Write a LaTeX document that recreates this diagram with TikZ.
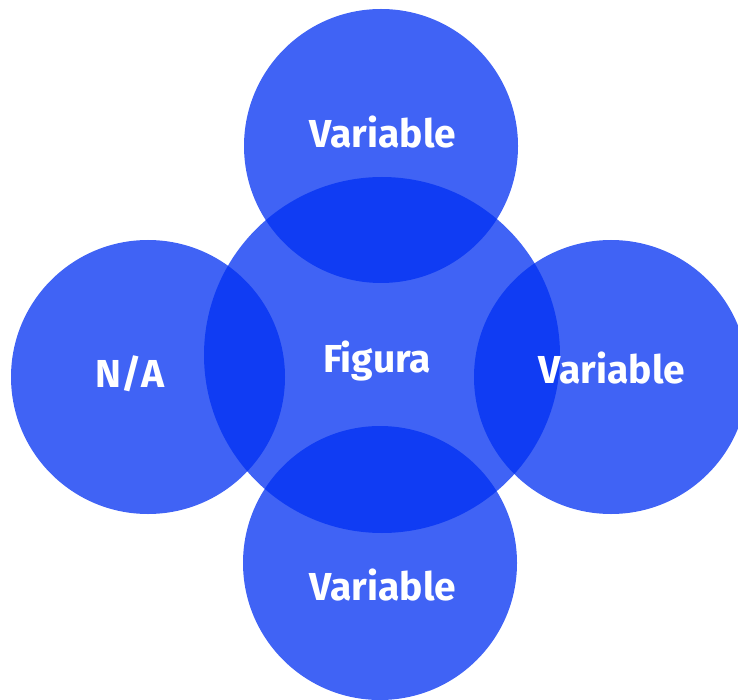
\documentclass[tikz,border=0pt]{standalone}
\usepackage{fontspec}
\setmainfont{Fira Sans}
\definecolor{myblue}{RGB}{0,47,242}

\begin{document}
\begin{tikzpicture}[x=1pt,y=-1pt,
  bubble/.style={circle,fill=myblue,fill opacity=0.75,draw=none,inner sep=0pt},
  bignode/.style={bubble,minimum size=356pt},
  smallnode/.style={bubble,minimum size=274pt},
  lbl/.style={text=white,anchor=base,inner sep=0pt,font=\fontsize{39}{39}\selectfont\bfseries}]

  \useasboundingbox (0,0) rectangle (738,700);

  % the five circles
  \node[bignode] (mid) at (382,355) {};
  \node[smallnode] (top) at (381,146) {};
  \node[smallnode] (left) at (148,377) {};
  \node[smallnode] (right) at (611,377) {};
  \node[smallnode] (bot) at (380,563) {};

  % labels
  \node[lbl] (midl) at (377,372) {Figura};
  \node[lbl] (topl) at (383,148) {Variable};
  \node[lbl] (leftl) at (130,387) {N/A};
  \node[lbl] (rightl) at (612,383) {Variable};
  \node[lbl] (botl) at (383,600) {Variable};

\end{tikzpicture}
\end{document}
